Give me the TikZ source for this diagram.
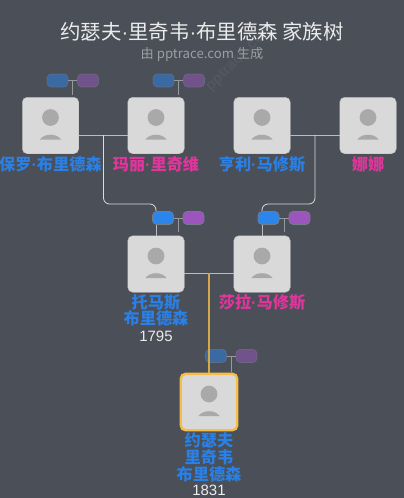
\documentclass[tikz,border=0pt]{standalone}
\usepackage{fontspec}
\setmainfont{Liberation Sans}
\newfontfamily\cjkfont{Noto Sans CJK SC}
\newfontfamily\dotfont{Liberation Sans}
\newcommand{\middot}{{\dotfont ·}}
\definecolor{bgdark}{HTML}{4A4F58}
\definecolor{cardgray}{HTML}{D9D9D9}
\definecolor{icongray}{HTML}{A9A9A9}
\definecolor{manblue}{HTML}{2A80E4}
\definecolor{ladypink}{HTML}{E0369C}
\definecolor{pillblue}{HTML}{2B85EA}
\definecolor{pillpurple}{HTML}{9B55BC}
\definecolor{pilledge}{HTML}{737C8A}
\definecolor{goldline}{HTML}{D4A94A}
\definecolor{goldedge}{HTML}{F6BE47}
\tikzset{
  avatar/.pic={
    \fill[icongray] (0,-8) circle (8.4);
    \fill[icongray] (-10.7,14) .. controls (-6,7.6) and (6,7.6) .. (10.7,14) -- cycle;
  }
}

\begin{document}
\begin{tikzpicture}[
  x=1pt, y=-1pt,
  card/.style={fill=cardgray, draw=cardgray!85!black, line width=0.4pt, rounded corners=5pt, minimum width=56.5pt, minimum height=56.5pt, inner sep=0pt},
  selected/.style={card, draw=goldedge, line width=2.4pt},
  pill/.style={draw=pilledge, line width=0.7pt, rounded corners=4pt, minimum width=21pt, minimum height=13pt, inner sep=0pt},
  faded/.style={opacity=0.5},
  namelabel/.style={font=\cjkfont\fontsize{16.2}{16.8}\selectfont\bfseries, align=center, inner sep=0pt, anchor=north},
  yearlabel/.style={font=\fontsize{15}{16}\selectfont, text=white!92!black, inner sep=0pt},
  tie/.style={draw=white!62!bgdark, line width=0.9pt},
  descent/.style={draw=white!80!bgdark, line width=0.8pt, rounded corners=6pt},
  stub/.style={draw=white!42!bgdark, line width=0.8pt},
  childline/.style={draw=goldline, line width=1.2pt}
]
  \useasboundingbox[fill=bgdark] (0,0) rectangle (404,498);

  % watermark
  \node[rotate=45, opacity=0.05, text=white, font=\fontsize{15}{15}\selectfont\bfseries] (mark) at (240,58) {pptrace.com};

  % title
  \node[font=\cjkfont\fontsize{20.4}{22}\selectfont, text=white!92!black] (title) at (202,32) {约瑟夫\middot 里奇韦\middot 布里德森 家族树};
  \node[font=\cjkfont\fontsize{13.2}{14}\selectfont, text=white!45!bgdark] (subtitle) at (202,54) {由 pptrace.com 生成};

  % people
  \node[card] (p1) at (50.5,125.5) {};
  \node[card] (p2) at (156,125.5) {};
  \node[card] (p3) at (262,125.5) {};
  \node[card] (p4) at (368,125.5) {};
  \node[card] (p5) at (156,264) {};
  \node[card] (p6) at (262,264) {};
  \node[selected] (p7) at (209,402) {};

  \foreach \who in {p1,p2,p3,p4,p5,p6,p7}
    \pic at (\who) {avatar};

  % junctions
  \coordinate (j1) at (103.5,135);
  \coordinate (j2) at (315,135);
  \coordinate (j3) at (209,273);
  \coordinate (c1) at (103.5,204);
  \coordinate (c2) at (315,204);

  % pills
  \node[pill, faded, fill=pillblue] (b1) at (57.5,80.5) {};
  \node[pill, faded, fill=pillpurple] (v1) at (88,80.5) {};
  \node[pill, faded, fill=pillblue] (b2) at (163.5,80.5) {};
  \node[pill, faded, fill=pillpurple] (v2) at (194,80.5) {};
  \node[pill, fill=pillblue] (b3) at (163,218) {};
  \node[pill, fill=pillpurple] (v3) at (193.5,218) {};
  \node[pill, fill=pillblue] (b4) at (268.5,218) {};
  \node[pill, fill=pillpurple] (v4) at (299.5,218) {};
  \node[pill, faded, fill=pillblue] (b5) at (216,356) {};
  \node[pill, faded, fill=pillpurple] (v5) at (246.5,356) {};

  \coordinate (d1) at (72.5,95);
  \coordinate (d2) at (178.5,95);
  \coordinate (d3) at (178.5,232);
  \coordinate (d4) at (284,232);
  \coordinate (d5) at (231,372);

  \draw[stub] (b1) -- (v1);
  \draw[stub] (b2) -- (v2);
  \draw[stub] (b3) -- (v3);
  \draw[stub] (b4) -- (v4);
  \draw[stub] (b5) -- (v5);
  \draw[stub] (d1 |- b1) -- (d1);
  \draw[stub] (d2 |- b2) -- (d2);
  \draw[stub] (d3 |- b3) -- (d3);
  \draw[stub] (d4 |- b4) -- (d4);
  \draw[stub] (d5 |- b5) -- (d5);

  % couples and descent
  \draw[tie] (p1.east |- j1) -- (p2.west |- j1);
  \draw[tie] (p3.east |- j2) -- (p4.west |- j2);
  \draw[tie] (p5.east |- j3) -- (p6.west |- j3);
  \draw[descent] (j1) -- (c1) -- (c1 -| p5) -- (p5 |- b3.north);
  \draw[descent] (j2) -- (c2) -- (c2 -| p6) -- (p6 |- b4.north);
  \draw[tie] (p5 |- b3.south) -- (p5.north);
  \draw[tie] (p6 |- b4.south) -- (p6.north);
  \draw[childline] (j3) -- (j3 |- p7.north);

  % labels
  \node[namelabel, text=manblue] (n1) at (50.5,156) {保罗\middot 布里德森};
  \node[namelabel, text=ladypink] (n2) at (156,156) {玛丽\middot 里奇维};
  \node[namelabel, text=manblue] (n3) at (262,156) {亨利\middot 马修斯};
  \node[namelabel, text=ladypink] (n4) at (368,156) {娜娜};
  \node[namelabel, text=manblue] (n5) at (156,294) {托马斯\\布里德森};
  \node[yearlabel] (y5) at (156,336) {1795};
  \node[namelabel, text=ladypink] (n6) at (262,294) {莎拉\middot 马修斯};
  \node[namelabel, text=manblue] (n7) at (209,432.5) {约瑟夫\\里奇韦\\布里德森};
  \node[yearlabel] (y7) at (209,490) {1831};
\end{tikzpicture}
\end{document}
